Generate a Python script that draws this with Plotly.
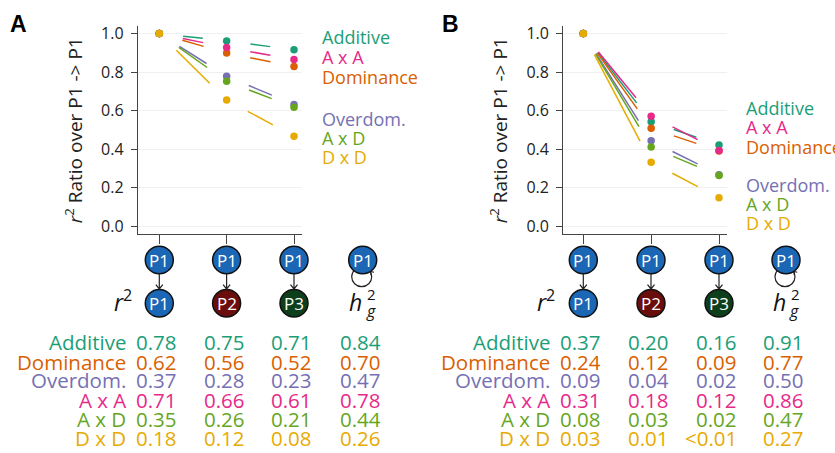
import math
import plotly.graph_objects as go

W, H = 835, 453

# ---------------- data ----------------
x_pos = [1, 2, 3]
x_labels = ["P1", "P2", "P3"]

A_additive = [1.0, 0.962, 0.916]
A_axa = [1.0, 0.928, 0.865]
A_dominance = [1.0, 0.899, 0.829]
A_overdom = [1.0, 0.778, 0.632]
A_axd = [1.0, 0.752, 0.617]
A_dxd = [1.0, 0.655, 0.467]

B_additive = [1.0, 0.542, 0.421]
B_axa = [1.0, 0.571, 0.393]
B_dominance = [1.0, 0.508, 0.390]
B_overdom = [1.0, 0.443, 0.267]
B_axd = [1.0, 0.410, 0.262]
B_dxd = [1.0, 0.332, 0.147]

y_ticks = [0.0, 0.2, 0.4, 0.6, 0.8, 1.0]

table_rows = ["Additive", "Dominance", "Overdom.", "A x A", "A x D", "D x D"]
A_tab_additive = ["0.78", "0.75", "0.71", "0.84"]
A_tab_dominance = ["0.62", "0.56", "0.52", "0.70"]
A_tab_overdom = ["0.37", "0.28", "0.23", "0.47"]
A_tab_axa = ["0.71", "0.66", "0.61", "0.78"]
A_tab_axd = ["0.35", "0.26", "0.21", "0.44"]
A_tab_dxd = ["0.18", "0.12", "0.08", "0.26"]

B_tab_additive = ["0.37", "0.20", "0.16", "0.91"]
B_tab_dominance = ["0.24", "0.12", "0.09", "0.77"]
B_tab_overdom = ["0.09", "0.04", "0.02", "0.50"]
B_tab_axa = ["0.31", "0.18", "0.12", "0.86"]
B_tab_axd = ["0.08", "0.03", "0.02", "0.47"]
B_tab_dxd = ["0.03", "0.01", "<0.01", "0.27"]

# ---------------- styles ----------------
COL = {
    "Additive": "#1b9e77",
    "Dominance": "#d95f02",
    "Overdom.": "#7570b3",
    "A x A": "#e7298a",
    "A x D": "#66a61e",
    "D x D": "#e6ab02",
}
FONT = "Open Sans"
AXC = "#444444"
draw_order = ["Additive", "Dominance", "A x A", "Overdom.", "A x D", "D x D"]
legend_order = ["Additive", "A x A", "Dominance", "Overdom.", "A x D", "D x D"]

panels = {
    "A": dict(
        xa="x", ya="y",
        left=138.0, p1=159.3, p3=294.0, right=302.0,
        series={"Additive": A_additive, "A x A": A_axa, "Dominance": A_dominance,
                "Overdom.": A_overdom, "A x D": A_axd, "D x D": A_dxd},
        table={"Additive": A_tab_additive, "Dominance": A_tab_dominance,
               "Overdom.": A_tab_overdom, "A x A": A_tab_axa,
               "A x D": A_tab_axd, "D x D": A_tab_dxd},
        leg_x=320, leg_y=[34.3, 55, 74.5, 117.3, 136.7, 156],
        letter_x=8,
        label_right=128,
        col_x=[159.3, 226.6, 294.0, 362.7],
        title_x=74,
        r2_x=123,
    ),
    "B": dict(
        xa="x2", ya="y2",
        left=563.3, p1=583.3, p3=719.0, right=726.7,
        series={"Additive": B_additive, "A x A": B_axa, "Dominance": B_dominance,
                "Overdom.": B_overdom, "A x D": B_axd, "D x D": B_dxd},
        table={"Additive": B_tab_additive, "Dominance": B_tab_dominance,
               "Overdom.": B_tab_overdom, "A x A": B_tab_axa,
               "A x D": B_tab_axd, "D x D": B_tab_dxd},
        leg_x=744, leg_y=[106, 126, 145.7, 184.3, 204, 223.3],
        letter_x=440,
        label_right=552,
        col_x=[583.3, 651.0, 719.0, 786.0],
        title_x=499,
        r2_x=546,
    ),
}

PLOT_TOP, PLOT_BOT = 23.0, 234.0
Y1PX, Y0PX = 31.0, 226.0
UY = (Y0PX - Y1PX)  # px per unit y
y_range = [-(PLOT_BOT - Y0PX) / UY, 1 + (Y1PX - PLOT_TOP) / UY]


def X(px):
    return px / W


def Y(py):
    return 1 - py / H


fig = go.Figure()
annotations = []
shapes = []

for key, p in panels.items():
    ux = (p["p3"] - p["p1"]) / 2.0
    x_range = [1 - (p["p1"] - p["left"]) / ux, 3 + (p["right"] - p["p3"]) / ux]
    p["x_range"] = x_range
    p["ux"] = ux

    # trimmed connecting segments
    for name in draw_order:
        vals = p["series"][name]
        xs, ys = [], []
        for i in range(len(x_pos) - 1):
            x1, x2 = x_pos[i], x_pos[i + 1]
            y1, y2 = vals[i], vals[i + 1]
            dx = (x2 - x1) * ux
            dy = (y2 - y1) * UY
            L = math.hypot(dx, dy)
            t0, t1 = 24.0 / L, 1 - 24.0 / L
            xs += [x1 + t0 * (x2 - x1), x1 + t1 * (x2 - x1), None]
            ys += [y1 + t0 * (y2 - y1), y1 + t1 * (y2 - y1), None]
        fig.add_trace(go.Scatter(x=xs, y=ys, mode="lines", xaxis=p["xa"], yaxis=p["ya"],
                                 line=dict(color=COL[name], width=1.5),
                                 hoverinfo="skip", showlegend=False))
    for name in draw_order:
        fig.add_trace(go.Scatter(x=x_pos, y=p["series"][name], mode="markers",
                                 xaxis=p["xa"], yaxis=p["ya"], name=name,
                                 marker=dict(color=COL[name], size=7.5),
                                 showlegend=False))

    # legend text
    for name, ly in zip(legend_order, p["leg_y"]):
        annotations.append(dict(x=X(p["leg_x"]), y=Y(ly), xref="paper", yref="paper",
                                text=name, showarrow=False, xanchor="left", yanchor="middle",
                                font=dict(family=FONT, size=18, color=COL[name])))

    # panel letter
    annotations.append(dict(x=X(p["letter_x"]), y=Y(21.5), xref="paper", yref="paper",
                            text="<b>%s</b>" % key, showarrow=False, xanchor="left",
                            yanchor="middle",
                            font=dict(family="Liberation Sans", size=23, color="black")))

    # y title
    annotations.append(dict(x=X(p["title_x"]), y=Y(129), xref="paper", yref="paper",
                            text="<i>r</i><sup>2</sup> Ratio over P1 -&gt; P1",
                            textangle=-90, showarrow=False, xanchor="center",
                            yanchor="middle",
                            font=dict(family=FONT, size=19, color="#222222")))

    # node diagram
    top_y, bot_y, R = 260.5, 304.3, 14.0
    node_cols = ["#1b67b5", "#6a0d0d", "#0e3f1c"]
    cols = p["col_x"]
    # self loop (behind node)
    lx, ly, lr = cols[3] - 1, 277.5, 10
    shapes.append(dict(type="circle", xref="paper", yref="paper",
                       x0=X(lx - lr), x1=X(lx + lr), y0=Y(ly + lr), y1=Y(ly - lr),
                       line=dict(color="#222222", width=1.2), fillcolor="rgba(0,0,0,0)"))
    tx, ty = lx + 8.8, ly - 5.5
    shapes.append(dict(type="path", xref="paper", yref="paper",
                       path=f"M {X(tx + 3.5)},{Y(ty + 0.8)} L {X(tx)},{Y(ty)} L {X(tx + 0.6)},{Y(ty + 3.8)}",
                       line=dict(color="#222222", width=1.1)))
    for i, cx in enumerate(cols):
        shapes.append(dict(type="circle", xref="paper", yref="paper",
                           x0=X(cx - R), x1=X(cx + R), y0=Y(top_y + R), y1=Y(top_y - R),
                           fillcolor=node_cols[0], line=dict(color="#111111", width=1.5)))
        annotations.append(dict(x=X(cx), y=Y(top_y + 0.5), xref="paper", yref="paper",
                                text="P1", showarrow=False, xanchor="center", yanchor="middle",
                                font=dict(family=FONT, size=17, color="white")))
        if i < 3:
            shapes.append(dict(type="circle", xref="paper", yref="paper",
                               x0=X(cx - R), x1=X(cx + R), y0=Y(bot_y + R), y1=Y(bot_y - R),
                               fillcolor=node_cols[i], line=dict(color="#111111", width=1.5)))
            annotations.append(dict(x=X(cx), y=Y(bot_y + 0.5), xref="paper", yref="paper",
                                    text=x_labels[i], showarrow=False, xanchor="center",
                                    yanchor="middle",
                                    font=dict(family=FONT, size=17, color="white")))
            a0, a1 = top_y + R, bot_y - R - 0.5
            shapes.append(dict(type="path", xref="paper", yref="paper",
                               path=f"M {X(cx)},{Y(a0)} L {X(cx)},{Y(a1)} "
                                    f"M {X(cx - 3.5)},{Y(a1 - 4.5)} L {X(cx)},{Y(a1)} L {X(cx + 3.5)},{Y(a1 - 4.5)}",
                               line=dict(color="#222222", width=1.2)))
    # r^2 label
    annotations.append(dict(x=X(p["r2_x"]), y=Y(302), xref="paper", yref="paper",
                            text="<i>r</i><sup>2</sup>", showarrow=False, xanchor="center",
                            yanchor="middle", font=dict(family=FONT, size=23, color="#111111")))
    # h_g^2 label
    hx = cols[3]
    annotations.append(dict(x=X(hx - 7), y=Y(303), xref="paper", yref="paper",
                            text="<i>h</i>", showarrow=False, xanchor="center", yanchor="middle",
                            font=dict(family=FONT, size=23, color="#111111")))
    annotations.append(dict(x=X(hx + 9), y=Y(295), xref="paper", yref="paper",
                            text="2", showarrow=False, xanchor="center", yanchor="middle",
                            font=dict(family=FONT, size=15, color="#111111")))
    annotations.append(dict(x=X(hx + 8), y=Y(312), xref="paper", yref="paper",
                            text="<i>g</i>", showarrow=False, xanchor="center", yanchor="middle",
                            font=dict(family=FONT, size=16, color="#111111")))

    # table
    row_y = [344, 363.5, 382.5, 402, 421.5, 441]
    for name, ry in zip(table_rows, row_y):
        annotations.append(dict(x=X(p["label_right"]), y=Y(ry), xref="paper", yref="paper",
                                text=name, showarrow=False, xanchor="right", yanchor="middle",
                                font=dict(family=FONT, size=20.5, color=COL[name])))
        for cx, val in zip(cols, p["table"][name]):
            annotations.append(dict(x=X(cx + 20), y=Y(ry), xref="paper", yref="paper",
                                    text=val, showarrow=False, xanchor="right",
                                    yanchor="middle",
                                    font=dict(family=FONT, size=20.5, color=COL[name])))

ydom = [Y(PLOT_BOT), Y(PLOT_TOP)]
common_x = dict(showgrid=False, zeroline=False, showline=True, linecolor=AXC, linewidth=1.4,
                ticks="outside", ticklen=9, tickwidth=1.4, tickcolor=AXC,
                tickvals=x_pos, showticklabels=False, fixedrange=True)
common_y = dict(showgrid=True, gridcolor="#f0f0f0", gridwidth=1.2, zeroline=False,
                showline=True, linecolor=AXC, linewidth=1.4, ticks="outside", ticklen=6,
                tickwidth=1.4, tickcolor=AXC, tickvals=y_ticks, tickformat=".1f",
                tickfont=dict(family=FONT, size=16, color="#222222"),
                ticklabelstandoff=4, range=y_range, fixedrange=True)

pa, pb = panels["A"], panels["B"]
fig.update_layout(
    width=W, height=H, margin=dict(l=0, r=0, t=0, b=0),
    paper_bgcolor="white", plot_bgcolor="white", showlegend=False,
    xaxis=dict(domain=[X(pa["left"]), X(pa["right"])], range=pa["x_range"], anchor="y", **common_x),
    yaxis=dict(domain=ydom, anchor="x", **common_y),
    xaxis2=dict(domain=[X(pb["left"]), X(pb["right"])], range=pb["x_range"], anchor="y2", **common_x),
    yaxis2=dict(domain=ydom, anchor="x2", **common_y),
    annotations=annotations,
    shapes=shapes,
)

fig.write_html("out.html", config={"displayModeBar": False},
               post_script="document.body.style.margin='0';document.body.style.overflow='hidden';")
